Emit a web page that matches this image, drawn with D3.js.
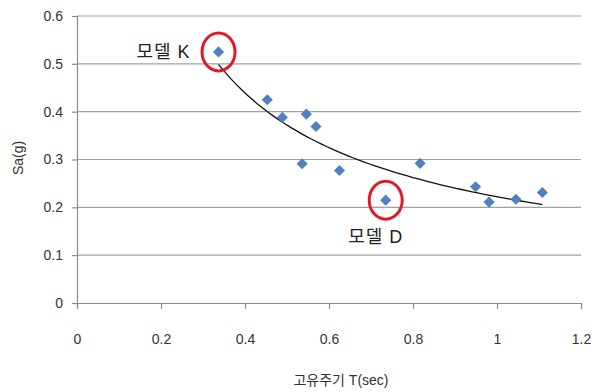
<!DOCTYPE html>
<html>
<head>
<meta charset="utf-8">
<script src="https://cdn.jsdelivr.net/npm/d3@7"></script>
<style>
  body { margin: 0; background: #fff; }
  svg { font-family: "Liberation Sans", "Noto Sans CJK KR", sans-serif; }
  .grid line { stroke: #a0a0a0; stroke-width: 1.2; }
  .axis path, .axis line { stroke: #8c8c8c; stroke-width: 1.2; }
  .axis text { fill: #333; font-size: 14px; }
  .callout { font-size: 18px; fill: #222; letter-spacing: 1px; }
</style>
</head>
<body>
<div id="chart"></div>
<script>
// data
var periods = [0.337, 0.453, 0.489, 0.546, 0.569, 0.536, 0.625, 0.735, 0.817, 0.949, 0.981, 1.045, 1.108];
var accels  = [0.525, 0.425, 0.388, 0.395, 0.369, 0.291, 0.277, 0.215, 0.292, 0.243, 0.211, 0.217, 0.231];
var xTicks = [0, 0.2, 0.4, 0.6, 0.8, 1, 1.2];
var yTicks = [0, 0.1, 0.2, 0.3, 0.4, 0.5, 0.6];
var callouts = [
  {index: 0, label: "모델 K"},
  {index: 7, label: "모델 D"}
];

var W = 594, H = 392;
var margin = {top: 16, right: 13, bottom: 89, left: 77};
var width = W - margin.left - margin.right;
var height = H - margin.top - margin.bottom;

var points = periods.map(function(t, i) { return {x: t, y: accels[i]}; });

var xScale = d3.scaleLinear().domain([0, 1.2]).range([0, width]);
var yScale = d3.scaleLinear().domain([0, 0.6]).range([height, 0]);

// power trendline y = a * x^b, least squares on log-log (like the spreadsheet does)
var lx = points.map(function(d) { return Math.log(d.x); });
var ly = points.map(function(d) { return Math.log(d.y); });
var mx = d3.mean(lx), my = d3.mean(ly);
var b = d3.sum(lx, function(v, i) { return (v - mx) * (ly[i] - my); }) /
        d3.sum(lx, function(v) { return (v - mx) * (v - mx); });
var a = Math.exp(my - b * mx);
var xMin = d3.min(periods), xMax = d3.max(periods);
var trend = d3.range(0, 61).map(function(k) {
  var t = xMin + (xMax - xMin) * k / 60;
  return {x: t, y: a * Math.pow(t, b)};
});

var svg = d3.select("#chart").append("svg")
    .attr("width", W)
    .attr("height", H);

var g = svg.append("g")
    .attr("transform", "translate(" + margin.left + "," + margin.top + ")");

g.append("g")
    .attr("class", "grid")
  .selectAll("line")
  .data(yTicks.filter(function(v) { return v > 0; }))
  .enter().append("line")
    .attr("x1", 0)
    .attr("x2", width)
    .attr("y1", function(d) { return yScale(d); })
    .attr("y2", function(d) { return yScale(d); });

g.append("g")
    .attr("class", "axis")
    .call(d3.axisLeft(yScale)
        .tickValues(yTicks)
        .tickSize(5)
        .tickPadding(9)
        .tickFormat(d3.format("")));

g.append("g")
    .attr("class", "axis")
    .attr("transform", "translate(0," + height + ")")
    .call(d3.axisBottom(xScale)
        .tickValues(xTicks)
        .tickSize(6)
        .tickPadding(25)
        .tickFormat(d3.format("")));

var line = d3.line()
    .x(function(d) { return xScale(d.x); })
    .y(function(d) { return yScale(d.y); })
    .curve(d3.curveBasis);

g.append("path")
    .datum(trend)
    .attr("fill", "none")
    .attr("stroke", "#111")
    .attr("stroke-width", 1.3)
    .attr("d", line);

// square markers turned 45 degrees, like the spreadsheet's diamonds
g.selectAll(".pt")
    .data(points)
  .enter().append("path")
    .attr("class", "pt")
    .attr("fill", "#4f81bd")
    .attr("d", d3.symbol().type(d3.symbolSquare).size(62))
    .attr("transform", function(d) {
      return "translate(" + xScale(d.x) + "," + yScale(d.y) + ") rotate(45)";
    });

g.selectAll(".ring")
    .data(callouts)
  .enter().append("ellipse")
    .attr("class", "ring")
    .attr("cx", function(d) { return xScale(periods[d.index]); })
    .attr("cy", function(d) { return yScale(accels[d.index]); })
    .attr("rx", 16.5)
    .attr("ry", 19)
    .attr("fill", "none")
    .attr("stroke", "#e01b24")
    .attr("stroke-width", 3);

// labels: K to the left of its point, D below its point
g.append("text")
    .attr("class", "callout")
    .attr("x", xScale(periods[0]) - 28)
    .attr("y", yScale(accels[0]) + 6)
    .attr("text-anchor", "end")
    .text(callouts[0].label);

g.append("text")
    .attr("class", "callout")
    .attr("x", xScale(periods[7]) - 10)
    .attr("y", yScale(accels[7]) + 43)
    .attr("text-anchor", "middle")
    .text(callouts[1].label);

svg.append("text")
    .attr("x", 341)
    .attr("y", 385)
    .attr("text-anchor", "middle")
    .attr("font-size", 14)
    .attr("fill", "#333")
    .text("고유주기 T(sec)");

svg.append("text")
    .attr("transform", "translate(23,158) rotate(-90)")
    .attr("text-anchor", "middle")
    .attr("font-size", 14)
    .attr("fill", "#333")
    .text("Sa(g)");
</script>
</body>
</html>
